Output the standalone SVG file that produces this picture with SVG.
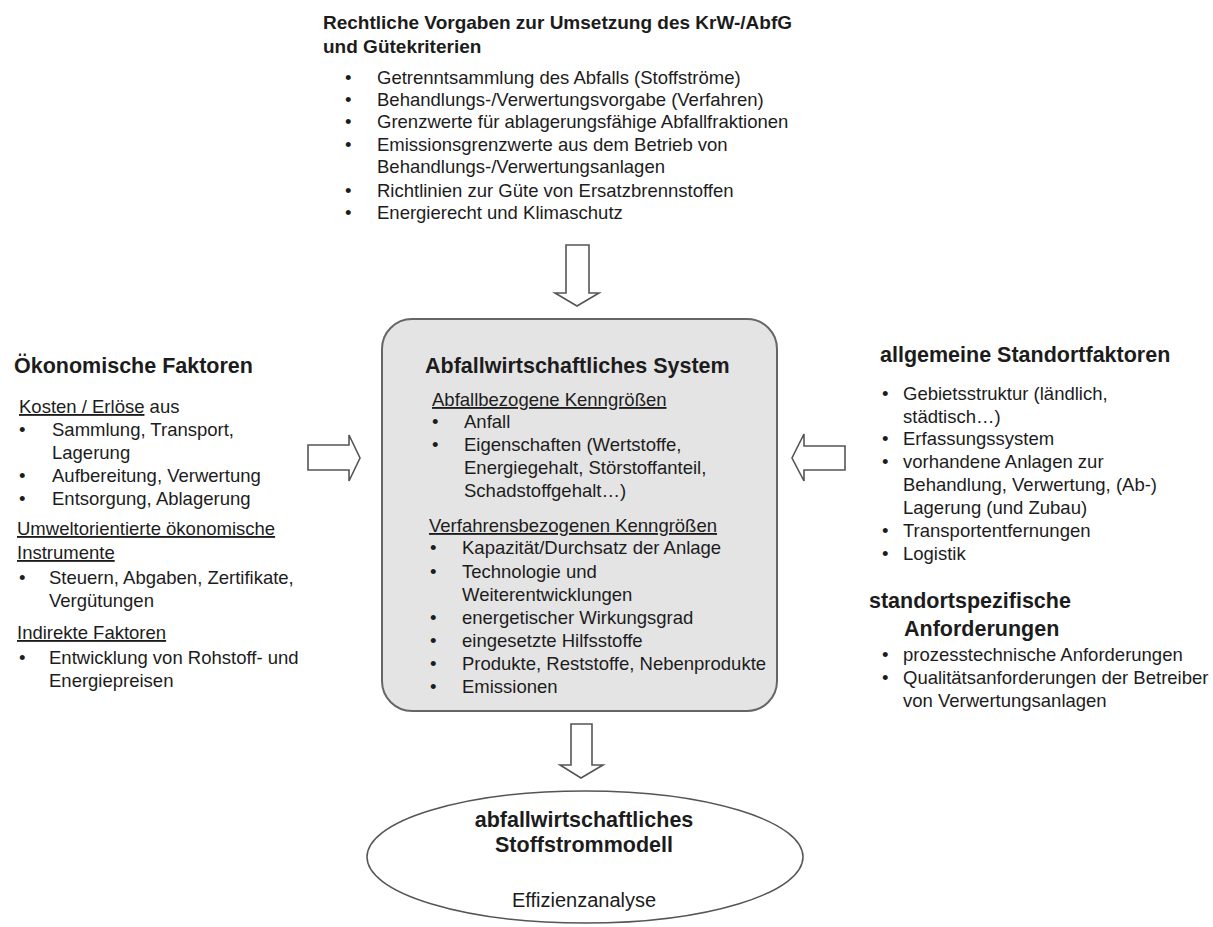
<svg xmlns="http://www.w3.org/2000/svg" width="1213" height="927" viewBox="0 0 1213 927">
<style>
text{font-family:"Liberation Sans",Arial,sans-serif;fill:#1c1c1c}
.h{font-weight:bold;font-size:21.5px}
.ht{font-weight:bold;font-size:19px}
.t{font-size:18.5px}
.u{text-decoration:underline}
.e{font-size:20px}
.arrow{fill:#fff;stroke:#555;stroke-width:1.6;stroke-linejoin:miter}
.box{fill:#e4e4e4;stroke:#666;stroke-width:2}
.ell{fill:#fff;stroke:#555;stroke-width:1.5}
</style>
<g id="connectors">
<polygon class="arrow" points="566,245 589,245 589,293 599,293 577,306 555,293 566,293"/>
<polygon class="arrow" points="308,445 349,445 349,435 360,458 349,481 349,470 308,470"/>
<polygon class="arrow" points="845,446 804,446 804,434 792,458 804,481 804,470 845,470"/>
<polygon class="arrow" points="571,724 592,724 592,765 603,765 581,778 560,765 571,765"/>
</g>
<g id="legal">
<text class="ht" x="323" y="29">Rechtliche Vorgaben zur Umsetzung des KrW-/AbfG</text>
<text class="ht" x="323" y="53">und Gütekriterien</text>
<g class="t">
<text class="t" x="345" y="84">•</text><text class="t" x="377" y="84">Getrenntsammlung des Abfalls (Stoffströme)</text>
<text class="t" x="345" y="106">•</text><text class="t" x="377" y="106">Behandlungs-/Verwertungsvorgabe (Verfahren)</text>
<text class="t" x="345" y="128">•</text><text class="t" x="377" y="128">Grenzwerte für ablagerungsfähige Abfallfraktionen</text>
<text class="t" x="345" y="151">•</text><text class="t" x="377" y="151">Emissionsgrenzwerte aus dem Betrieb von</text>
<text class="t" x="377" y="173">Behandlungs-/Verwertungsanlagen</text>
<text class="t" x="345" y="197">•</text><text class="t" x="377" y="197">Richtlinien zur Güte von Ersatzbrennstoffen</text>
<text class="t" x="345" y="219">•</text><text class="t" x="377" y="219">Energierecht und Klimaschutz</text>
</g>
</g>
<g id="economic">
<text class="h" x="14" y="373">Ökonomische Faktoren</text>
<text class="t" x="19" y="413"><tspan class="u">Kosten / Erlöse</tspan> aus</text>
<text class="t" x="19" y="436">•</text><text class="t" x="52" y="436">Sammlung, Transport,</text>
<text class="t" x="52" y="459">Lagerung</text>
<text class="t" x="19" y="482">•</text><text class="t" x="52" y="482">Aufbereitung, Verwertung</text>
<text class="t" x="19" y="505">•</text><text class="t" x="52" y="505">Entsorgung, Ablagerung</text>
<text class="t u" x="17" y="535">Umweltorientierte ökonomische</text>
<text class="t u" x="17" y="559">Instrumente</text>
<text class="t" x="19" y="584">•</text><text class="t" x="49" y="584">Steuern, Abgaben, Zertifikate,</text>
<text class="t" x="49" y="607">Vergütungen</text>
<text class="t u" x="17" y="639">Indirekte Faktoren</text>
<text class="t" x="19" y="664">•</text><text class="t" x="49" y="664">Entwicklung von Rohstoff- und</text>
<text class="t" x="49" y="687">Energiepreisen</text>
</g>
<g id="system">
<rect class="box" x="382" y="319" width="395" height="392" rx="30" ry="30"/>
<text class="h" x="425" y="373">Abfallwirtschaftliches System</text>
<text class="t u" x="432" y="406">Abfallbezogene Kenngrößen</text>
<text class="t" x="432" y="428">•</text><text class="t" x="464" y="428">Anfall</text>
<text class="t" x="432" y="451">•</text><text class="t" x="464" y="451">Eigenschaften (Wertstoffe,</text>
<text class="t" x="464" y="474">Energiegehalt, Störstoffanteil,</text>
<text class="t" x="464" y="497">Schadstoffgehalt…)</text>
<text class="t u" x="429" y="532">Verfahrensbezogenen Kenngrößen</text>
<text class="t" x="430" y="554">•</text><text class="t" x="462" y="554">Kapazität/Durchsatz der Anlage</text>
<text class="t" x="430" y="578">•</text><text class="t" x="462" y="578">Technologie und</text>
<text class="t" x="462" y="601">Weiterentwicklungen</text>
<text class="t" x="430" y="624">•</text><text class="t" x="462" y="624">energetischer Wirkungsgrad</text>
<text class="t" x="430" y="647">•</text><text class="t" x="462" y="647">eingesetzte Hilfsstoffe</text>
<text class="t" x="430" y="670">•</text><text class="t" x="462" y="670">Produkte, Reststoffe, Nebenprodukte</text>
<text class="t" x="430" y="693">•</text><text class="t" x="462" y="693">Emissionen</text>
</g>
<g id="location">
<text class="h" x="880" y="362">allgemeine Standortfaktoren</text>
<text class="t" x="882" y="400">•</text><text class="t" x="903" y="400">Gebietsstruktur (ländlich,</text>
<text class="t" x="903" y="423">städtisch…)</text>
<text class="t" x="882" y="445">•</text><text class="t" x="903" y="445">Erfassungssystem</text>
<text class="t" x="882" y="468">•</text><text class="t" x="903" y="468">vorhandene Anlagen zur</text>
<text class="t" x="903" y="491">Behandlung, Verwertung, (Ab-)</text>
<text class="t" x="903" y="514">Lagerung (und Zubau)</text>
<text class="t" x="882" y="537">•</text><text class="t" x="903" y="537">Transportentfernungen</text>
<text class="t" x="882" y="560">•</text><text class="t" x="903" y="560">Logistik</text>
</g>
<g id="requirements">
<text class="h" x="869" y="608">standortspezifische</text>
<text class="h" x="904" y="636">Anforderungen</text>
<text class="t" x="882" y="661">•</text><text class="t" x="903" y="661">prozesstechnische Anforderungen</text>
<text class="t" x="882" y="684">•</text><text class="t" x="903" y="684">Qualitätsanforderungen der Betreiber</text>
<text class="t" x="903" y="707">von Verwertungsanlagen</text>
</g>
<g id="model">
<ellipse class="ell" cx="585" cy="857" rx="218" ry="66"/>
<text class="h" x="584" y="827" text-anchor="middle">abfallwirtschaftliches</text>
<text class="h" x="584" y="852" text-anchor="middle">Stoffstrommodell</text>
<text class="e" x="584" y="907" text-anchor="middle">Effizienzanalyse</text>
</g>
</svg>
